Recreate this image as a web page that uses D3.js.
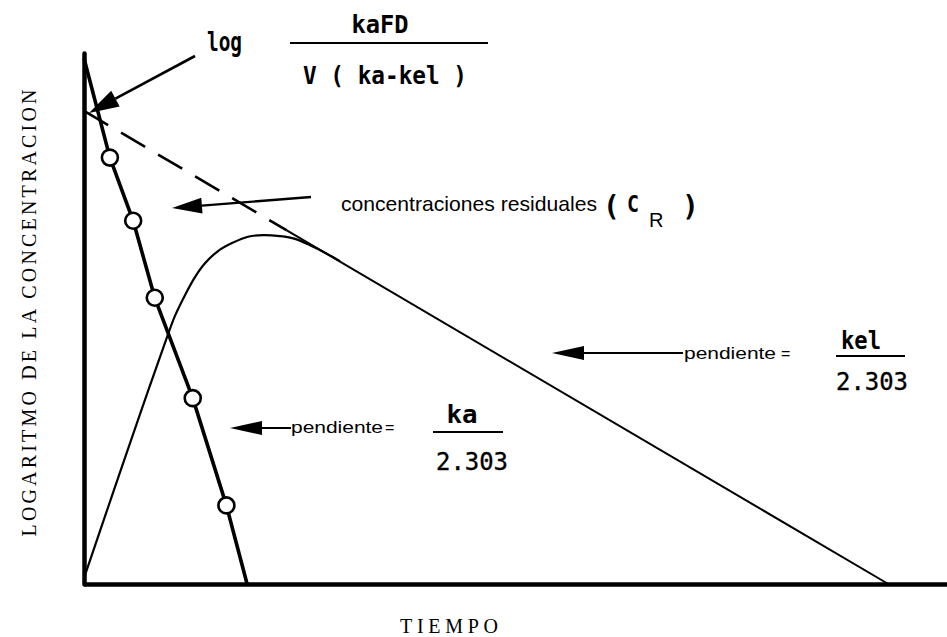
<!DOCTYPE html>
<html>
<head>
<meta charset="utf-8">
<script src="https://cdn.jsdelivr.net/npm/d3@7"></script>
<style>
  html, body { margin: 0; background: #fff; }
  svg { display: block; }
</style>
</head>
<body>
<svg id="chart" width="947" height="637"></svg>
<script>
// Oral one-compartment model, semilog plot (arbitrary units on both axes)

// Residual concentrations (C_R): straight line of slope ka/2.303
const residualTime = [0, 3.0, 5.7, 8.2, 12.6, 16.5, 18.9];
const residualLogC = [99, 80.3, 68.4, 53.9, 35.0, 14.8, 0];
// indices of the residual values drawn as open circles
const residualMarked = [1, 2, 3, 4, 5];

// Terminal elimination line (slope kel/2.303), extrapolated back to t = 0
const eliminationTime = [0, 23.5, 93.2];
const eliminationLogC = [89.1, 66.6, 0];

// Observed plasma concentration curve (rise, peak, merge with terminal line)
const plasmaTime = [0, 3.24, 6.49, 9.62, 10.54, 11.70, 12.86, 14.02, 15.53,
                    17.15, 19.00, 20.74, 22.71, 24.45, 26.19, 27.93, 29.66];
const plasmaLogC = [1.1, 16.6, 32.0, 46.5, 50.5, 54.4, 57.8, 60.4, 62.7,
                    64.2, 65.4, 65.7, 65.5, 65.0, 63.8, 62.4, 60.8];

const xTitle = "TIEMPO";
const yTitle = "LOGARITMO DE LA CONCENTRACION";

const svg = d3.select("#chart");
const x = d3.scaleLinear().domain([0, 100]).range([84, 947]);
const y = d3.scaleLinear().domain([0, 100]).range([584, 53]);

const pts = (ts, vs) => ts.map((t, i) => [t, vs[i]]);
const line = d3.line().x(d => x(d[0])).y(d => y(d[1]));

// ---- axes (bare, no ticks) ----
const gx = svg.append("g").attr("transform", `translate(0,${y(0)})`)
  .call(d3.axisBottom(x).tickValues([]).tickSizeOuter(0));
const gy = svg.append("g").attr("transform", `translate(${x(0)},0)`)
  .call(d3.axisLeft(y).tickValues([]).tickSizeOuter(0));
[gx, gy].forEach(g => g.select(".domain")
  .attr("stroke", "#000").attr("stroke-width", 4.5).attr("stroke-linecap", "round"));
gx.select(".domain").attr("stroke-linecap", "butt");

// ---- elimination line: dashed extrapolation, then solid ----
const elim = pts(eliminationTime, eliminationLogC);
svg.append("path").datum(elim.slice(0, 2))
  .attr("d", line).attr("fill", "none").attr("stroke", "#000")
  .attr("stroke-width", 2.6).attr("stroke-dasharray", "28,15");
svg.append("path").datum(elim.slice(1))
  .attr("d", line).attr("fill", "none").attr("stroke", "#000")
  .attr("stroke-width", 2);

// ---- plasma curve ----
svg.append("path").datum(pts(plasmaTime, plasmaLogC))
  .attr("d", d3.line().x(d => x(d[0])).y(d => y(d[1])).curve(d3.curveCatmullRom.alpha(0.5)))
  .attr("fill", "none").attr("stroke", "#000").attr("stroke-width", 2.2);

// ---- residual line with open circles ----
const resid = pts(residualTime, residualLogC);
svg.append("path").datum(resid)
  .attr("d", line).attr("fill", "none").attr("stroke", "#000")
  .attr("stroke-width", 3.6).attr("stroke-linejoin", "round");
svg.selectAll("circle.resid").data(residualMarked.map(i => resid[i]))
  .join("circle").attr("class", "resid")
  .attr("cx", d => x(d[0])).attr("cy", d => y(d[1])).attr("r", 8)
  .attr("fill", "#fff").attr("stroke", "#000").attr("stroke-width", 2.6);

// ---- annotation helpers ----
function arrow(x1, y1, x2, y2, len, half, w) {
  // tail (x1,y1) -> tip (x2,y2), filled triangular head
  const a = Math.atan2(y2 - y1, x2 - x1);
  const bx = x2 - len * Math.cos(a), by = y2 - len * Math.sin(a);
  svg.append("line").attr("x1", x1).attr("y1", y1).attr("x2", bx).attr("y2", by)
    .attr("stroke", "#000").attr("stroke-width", w);
  const nx = -Math.sin(a) * half, ny = Math.cos(a) * half;
  svg.append("path")
    .attr("d", `M${x2},${y2}L${bx + nx},${by + ny}L${bx - nx},${by - ny}Z`)
    .attr("fill", "#000");
}
function label(txt, px, py, opts) {
  const t = svg.append("text").attr("x", px).attr("y", py).text(txt)
    .attr("font-family", opts.family || "DejaVu Sans Mono")
    .attr("font-size", opts.size).attr("font-weight", opts.weight || "normal")
    .attr("text-anchor", opts.anchor || "start").attr("fill", "#000");
  if (opts.len) t.attr("textLength", opts.len)
    .attr("lengthAdjust", opts.adjust || "spacingAndGlyphs");
  if (opts.outline) t.attr("stroke", "#000").attr("stroke-width", opts.outline);
  return t;
}
function bar(x1, x2, yy) {
  svg.append("line").attr("x1", x1).attr("x2", x2).attr("y1", yy).attr("y2", yy)
    .attr("stroke", "#000").attr("stroke-width", 2);
}
const sans = "Liberation Sans, Arial, sans-serif";
const serif = "Liberation Serif, serif";

// log kaFD / V(ka-kel)  -> intercept of the extrapolated line
arrow(195, 56, x(0) + 5, y(eliminationLogC[0]) + 2, 30, 9, 2.6);
label("log", 207, 51, { size: 27, weight: "bold", len: 35 });
label("kaFD", 380, 33, { size: 25, weight: "bold", anchor: "middle", len: 57 });
bar(290, 488, 43);
label("V ( ka-kel )", 385, 84, { size: 25, weight: "bold", anchor: "middle", len: 164 });

// residual concentrations
arrow(311, 197, 172, 208, 30, 8, 2.4);
label("concentraciones residuales", 341, 211, { family: sans, size: 21, len: 256 });
label("(", 603, 216, { size: 28, weight: "bold" });
label("C", 627, 212, { size: 23, weight: "bold", len: 12 });
label("R", 649, 227, { family: sans, size: 20 });
label(")", 682, 216, { size: 28, weight: "bold" });

// slope kel/2.303
arrow(683, 353, 552, 353, 32, 7, 2);
label("pendiente", 684, 359, { family: sans, size: 16, len: 92 });
label("=", 781, 359, { family: sans, size: 16 });
label("kel", 861, 349, { size: 24, weight: "bold", anchor: "middle", len: 40 });
bar(836, 905, 356);
label("2.303", 872, 390, { size: 25, anchor: "middle", len: 72, outline: 0.35 });

// slope ka/2.303
arrow(291, 428, 230, 428, 32, 7, 2);
label("pendiente", 291, 433, { family: sans, size: 16, len: 92 });
label("=", 385, 433, { family: sans, size: 16 });
label("ka", 462, 423, { size: 25, weight: "bold", anchor: "middle", len: 31 });
bar(433, 503, 432);
label("2.303", 472, 470, { size: 25, anchor: "middle", len: 72, outline: 0.35 });

// axis titles
label(xTitle, 449, 633, { family: serif, size: 20, anchor: "middle", len: 98, adjust: "spacing" });
label(yTitle, 0, 0, { family: serif, size: 20, anchor: "middle", len: 447, adjust: "spacing" })
  .attr("transform", "translate(36,313) rotate(-90)");
</script>
</body>
</html>
